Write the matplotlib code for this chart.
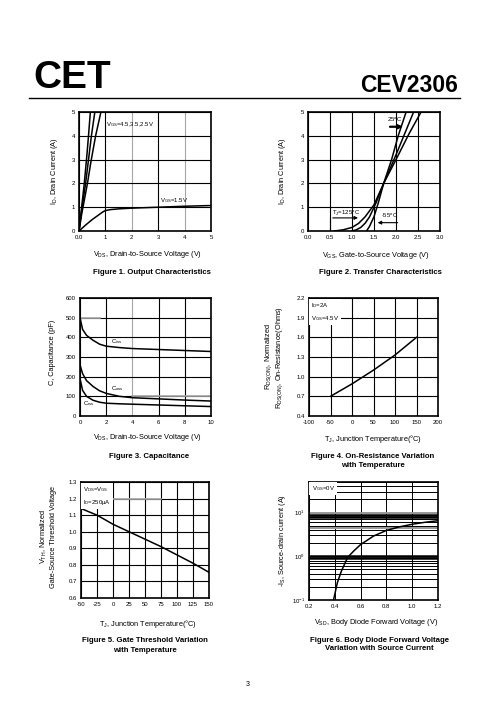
import numpy as np
import matplotlib
matplotlib.use("Agg")
import matplotlib.pyplot as plt
from matplotlib.ticker import LogLocator, NullFormatter

plt.rcParams['font.family'] = ['Liberation Sans', 'DejaVu Sans']
plt.rcParams['mathtext.fontset'] = 'custom'
plt.rcParams['mathtext.rm'] = 'Liberation Sans'
plt.rcParams['mathtext.it'] = 'Liberation Sans:italic'
plt.rcParams['mathtext.bf'] = 'Liberation Sans:bold'
plt.rcParams['mathtext.default'] = 'rm'

# Figure 1 - output characteristics
vds_45 = [0, 0.1, 0.2, 0.3, 0.36, 0.43]
id_45 = [0, 1.0, 2.0, 3.2, 4.0, 5.0]
vds_35 = [0, 0.1, 0.25, 0.35, 0.47, 0.6]
id_35 = [0, 0.85, 2.0, 2.9, 4.0, 5.0]
vds_25 = [0, 0.1, 0.32, 0.45, 0.63, 0.83]
id_25 = [0, 0.7, 2.0, 2.9, 4.0, 5.0]
vds_15 = [0, 0.25, 0.5, 0.75, 0.9, 1.0, 1.2, 1.5, 2, 3, 4, 5]
id_15 = [0, 0.25, 0.48, 0.68, 0.8, 0.86, 0.9, 0.93, 0.96, 1.0, 1.04, 1.07]

# Figure 2 - transfer characteristics
vgs_125 = [0.6, 0.8, 1.0, 1.15, 1.3, 1.5, 1.72, 2.0, 2.3, 2.57]
id_125 = [0, 0.05, 0.15, 0.32, 0.6, 1.1, 2.0, 3.0, 4.1, 5.0]
vgs_25 = [1.0, 1.1, 1.2, 1.3, 1.4, 1.55, 1.72, 2.0, 2.2, 2.4]
id_25c = [0, 0.05, 0.15, 0.33, 0.6, 1.2, 2.0, 3.2, 4.1, 5.0]
vgs_m55 = [1.33, 1.4, 1.45, 1.5, 1.6, 1.72, 1.9, 2.05, 2.23]
id_m55 = [0, 0.2, 0.4, 0.6, 1.2, 2.0, 3.0, 4.0, 5.0]

# Figure 3 - capacitance
vds_c = [0, 0.2, 0.5, 1, 1.5, 2, 3, 4, 6, 8, 10]
ciss = [500, 440, 410, 385, 365, 355, 348, 343, 338, 333, 328]
coss = [260, 215, 180, 150, 128, 115, 100, 93, 87, 81, 76]
crss = [190, 130, 100, 80, 70, 65, 62, 60, 56, 52, 48]

# Figure 4 - on-resistance vs temperature
tj4 = [-50, 0, 50, 100, 150]
rds = [0.7, 0.89, 1.1, 1.33, 1.6]

# Figure 5 - threshold vs temperature
tj5 = [-50, -25, 0, 25, 50, 75, 100, 125, 150]
vth = [1.14, 1.1, 1.045, 1.0, 0.955, 0.91, 0.86, 0.81, 0.755]

# Figure 6 - body diode
vsd = [0.39, 0.42, 0.45, 0.5, 0.55, 0.6, 0.7, 0.8, 0.9, 1.0, 1.1, 1.2]
isd = [0.1, 0.25, 0.45, 0.95, 1.35, 1.85, 2.9, 3.9, 4.7, 5.4, 6.0, 6.5]
heavy_black = [0.9, 1.0, 8.0, 9.0]
heavy_gray = [4.5, 10.0]

W, H = 496, 723
fig = plt.figure(figsize=(W / 100, H / 100), dpi=100)


def box(l, t, r, b):
    return [l / W, 1 - b / H, (r - l) / W, (b - t) / H]


def ftext(x, y, s, **kw):
    kw.setdefault('ha', 'center')
    kw.setdefault('va', 'center')
    fig.text(x / W, 1 - y / H, s, **kw)


def style(ax, xt, xl, yt, yl):
    ax.set_xticks(xt)
    ax.set_xticklabels(xl)
    ax.set_yticks(yt)
    ax.set_yticklabels(yl)
    ax.set_xlim(xt[0], xt[-1])
    ax.set_ylim(yt[0], yt[-1])
    ax.tick_params(length=0, labelsize=4.3, pad=3)
    ax.grid(color='k', lw=0.8)
    ax.set_axisbelow(True)
    for s in ax.spines.values():
        s.set_linewidth(1.2)


lab = 5.3
cap = 5.6
small = 4.3
lx, rx = 148, 376

# header
ftext(33, 78, 'CET', ha='left', fontsize=28, fontweight='black')
ftext(458, 86, 'CEV2306', ha='right', fontsize=16.5, fontweight='bold')
fig.add_artist(plt.Line2D([29 / W, 460 / W], [1 - 98 / H, 1 - 98 / H], color='k', lw=1))
ftext(248, 685, '3', fontsize=5)

# Figure 1
ax1 = fig.add_axes(box(79, 112, 211, 231))
style(ax1, [0, 1, 2, 3, 4, 5], ['0.0', '1', '2', '3', '4', '5'],
      [0, 1, 2, 3, 4, 5], ['0', '1', '2', '3', '4', '5'])
for gl in ax1.get_xgridlines()[2::2]:
    gl.set_color('0.65')
for xs, ys in [(vds_45, id_45), (vds_35, id_35), (vds_25, id_25), (vds_15, id_15)]:
    ax1.plot(xs, ys, color='k', lw=1.1)
ax1.text(1.02, 4.4, r'V$_{GS}$=4.5,3.5,2.5V', fontsize=small)
ax1.text(3.05, 1.2, r'V$_{GS}$=1.5V', fontsize=small)
ftext(lx, 254, r'V$_{DS}$, Drain-to-Source Voltage (V)', fontsize=lab)
ftext(54, 171, r'I$_D$, Drain Current (A)', fontsize=lab, rotation=90)
ftext(lx + 4, 272, 'Figure 1. Output Characteristics', fontsize=cap, fontweight='bold')

# Figure 2
ax2 = fig.add_axes(box(308, 112, 440, 231))
style(ax2, [0, 0.5, 1, 1.5, 2, 2.5, 3], ['0.0', '0.5', '1.0', '1.5', '2.0', '2.5', '3.0'],
      [0, 1, 2, 3, 4, 5], ['0', '1', '2', '3', '4', '5'])
for xs, ys in [(vgs_125, id_125), (vgs_25, id_25c), (vgs_m55, id_m55)]:
    ax2.plot(xs, ys, color='k', lw=1.1)
ax2.plot([0.5, 0.5], [0, 0.55], color='k', lw=0.8)
ax2.annotate('', xy=(1.2, 0.55), xytext=(0.5, 0.55),
             arrowprops=dict(arrowstyle='-|>', color='k', lw=0.8, mutation_scale=5))
ax2.text(0.55, 0.75, r'T$_J$=125$^o$C', fontsize=small, va='center')
ax2.annotate('', xy=(1.52, 0.35), xytext=(2.1, 0.35),
             arrowprops=dict(arrowstyle='-|>', color='k', lw=0.8, mutation_scale=5))
ax2.text(1.85, 0.62, r'-55$^o$C', fontsize=small, ha='center', va='center')
ax2.annotate('', xy=(2.22, 4.38), xytext=(1.8, 4.38),
             arrowprops=dict(arrowstyle='-|>', color='k', lw=1.6, mutation_scale=6))
ax2.text(1.98, 4.65, r'25$^o$C', fontsize=small, ha='center', va='center')
ftext(rx, 255, r'V$_{GS}$, Gate-to-Source Voltage (V)', fontsize=lab)
ftext(282, 171, r'I$_D$, Drain Current (A)', fontsize=lab, rotation=90)
ftext(rx + 4, 272, 'Figure 2. Transfer Characteristics', fontsize=cap, fontweight='bold')

# Figure 3
ax3 = fig.add_axes(box(80, 298, 211, 416))
style(ax3, [0, 2, 4, 6, 8, 10], ['0', '2', '4', '6', '8', '10'],
      [0, 100, 200, 300, 400, 500, 600], ['0', '100', '200', '300', '400', '500', '600'])
ax3.get_xgridlines()[2].set_color('0.65')
ax3.plot([0, 1.5], [500, 500], color='0.65', lw=1.2, zorder=0.9)
ax3.plot([4, 10], [100, 100], color='0.65', lw=1.2, zorder=0.9)
for ys in [ciss, coss, crss]:
    ax3.plot(vds_c, ys, color='k', lw=1.1)
ax3.text(2.4, 381, r'C$_{iss}$', fontsize=small, va='center')
ax3.text(2.4, 140, r'C$_{oss}$', fontsize=small, va='center')
ax3.text(0.25, 63, r'C$_{rss}$', fontsize=small, va='center')
ftext(lx, 438, r'V$_{DS}$, Drain-to-Source Voltage (V)', fontsize=lab)
ftext(53, 352, 'C, Capacitance (pF)', fontsize=lab, rotation=90)
ftext(lx + 1, 457, 'Figure 3. Capacitance', fontsize=cap, fontweight='bold')

# Figure 4
ax4 = fig.add_axes(box(309, 298, 438, 416))
yt4 = [0.4, 0.7, 1.0, 1.3, 1.6, 1.9, 2.2]
style(ax4, [-100, -50, 0, 50, 100, 150, 200], ['-100', '-50', '0', '50', '100', '150', '200'],
      yt4, ['%.1f' % v for v in yt4])
ax4.plot(tj4, rds, color='k', lw=1.1)
ax4.text(-96, 2.15, 'I$_D$=2A\nV$_{GS}$=4.5V', fontsize=small, va='top', linespacing=1.6,
         bbox=dict(facecolor='white', edgecolor='none', pad=1.5))
ftext(rx - 3, 439, 'T$_J$, Junction Temperature(\u00b0C)', fontsize=lab)
ftext(274, 357, 'R$_{DS(ON)}$, Normalized\nR$_{DS(ON)}$, On-Resistance(Ohms)',
      fontsize=lab, rotation=90, multialignment='center', linespacing=1.1)
ftext(rx - 3, 457, 'Figure 4. On-Resistance Variation', fontsize=cap, fontweight='bold')
ftext(rx - 3, 465, 'with Temperature', fontsize=cap, fontweight='bold')

# Figure 5
ax5 = fig.add_axes(box(81, 482, 209, 598))
yt5 = [0.6, 0.7, 0.8, 0.9, 1.0, 1.1, 1.2, 1.3]
style(ax5, [-50, -25, 0, 25, 50, 75, 100, 125, 150],
      ['-50', '-25', '0', '25', '50', '75', '100', '125', '150'],
      yt5, ['%.1f' % v for v in yt5])
ax5.plot([-50, 75], [1.2, 1.2], color='0.65', lw=1.2, zorder=0.9)
ax5.plot(tj5, vth, color='k', lw=1.1)
ax5.text(-47, 1.28, 'V$_{DS}$=V$_{GS}$\nI$_D$=250\u03bcA', fontsize=small, va='top', linespacing=1.6,
         bbox=dict(facecolor='white', edgecolor='none', pad=1.5))
ftext(lx, 624, 'T$_J$, Junction Temperature(\u00b0C)', fontsize=lab)
ftext(48, 537, 'V$_{TH}$, Normalized\nGate-Source Threshold Voltage',
      fontsize=lab, rotation=90, multialignment='center', linespacing=1.1)
ftext(lx - 3, 641, 'Figure 5. Gate Threshold Variation', fontsize=cap, fontweight='bold')
ftext(lx - 3, 650, 'with Temperature', fontsize=cap, fontweight='bold')

# Figure 6
ax6 = fig.add_axes(box(309, 482, 438, 600))
ax6.set_yscale('log')
ax6.set_xlim(0.2, 1.2)
ax6.set_ylim(0.1, 50)
ax6.set_xticks([0.2, 0.4, 0.6, 0.8, 1.0, 1.2])
ax6.set_xticklabels(['0.2', '0.4', '0.6', '0.8', '1.0', '1.2'])
ax6.yaxis.set_major_locator(LogLocator(base=10))
ax6.yaxis.set_minor_locator(LogLocator(base=10, subs=range(2, 10)))
ax6.yaxis.set_minor_formatter(NullFormatter())
ax6.tick_params(which='both', length=0, labelsize=4.3, pad=3)
ax6.grid(which='both', color='k', lw=0.7)
ax6.set_axisbelow(True)
for s in ax6.spines.values():
    s.set_linewidth(1.2)
for v in heavy_black:
    ax6.axhline(v, color='k', lw=1.8, zorder=0.5)
for v in heavy_gray:
    ax6.axhline(v, color='0.6', lw=1.4, zorder=0.6)
ax6.plot(vsd, isd, color='k', lw=1.1)
ax6.text(0.22, 44, 'V$_{GS}$=0V', fontsize=small, va='top',
         bbox=dict(facecolor='white', edgecolor='none', pad=1.5))
ftext(rx, 623, r'V$_{SD}$, Body Diode Forward Voltage (V)', fontsize=lab)
ftext(282, 540, '-I$_S$, Source-drain current (A)', fontsize=lab, rotation=90)
ftext(rx + 3, 640, 'Figure 6. Body Diode Forward Voltage', fontsize=cap, fontweight='bold')
ftext(rx + 3, 649, 'Variation with Source Current', fontsize=cap, fontweight='bold')

plt.savefig('out.png', dpi=100)
